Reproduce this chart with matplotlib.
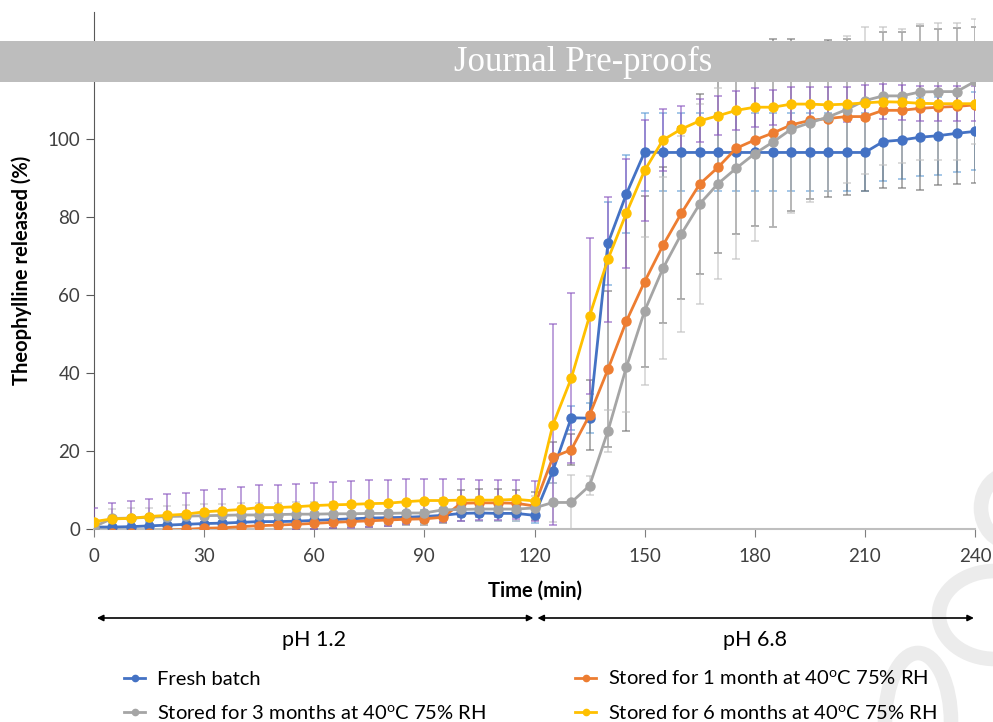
import matplotlib
matplotlib.use("Agg")
import matplotlib.pyplot as plt
from matplotlib.patches import Rectangle, Ellipse
from matplotlib.lines import Line2D

plt.rcParams['font.family'] = ['Lato', 'DejaVu Sans']
plt.rcParams['mathtext.fontset'] = 'custom'
plt.rcParams['mathtext.rm'] = 'Lato'

# time points (min)
time = [0, 5, 10, 15, 20, 25, 30, 35, 40, 45, 50, 55, 60, 65, 70, 75, 80, 85, 90, 95,
        100, 105, 110, 115, 120, 125, 130, 135, 140, 145, 150, 155, 160, 165, 170, 175,
        180, 185, 190, 195, 200, 205, 210, 215, 220, 225, 230, 235, 240]

fresh = [0.5, 0.5, 0.6, 0.8, 1.0, 1.2, 1.4, 1.5, 1.7, 1.9, 1.9, 2.0, 2.2, 2.4, 2.6, 2.8,
         2.9, 3.0, 3.2, 3.5, 4.0, 4.1, 4.0, 4.0, 3.5,
         14.9, 28.5, 28.4, 73.2, 85.8, 96.6, 96.5, 96.5, 96.5, 96.5, 96.5, 96.5, 96.5,
         96.5, 96.5, 96.5, 96.5, 96.5, 99.3, 99.7, 100.4, 100.8, 101.4, 101.9]
fresh_err = [1.0, 1.0, 1.0, 1.0, 1.0, 1.0, 1.2, 1.2, 1.2, 1.2, 1.2, 1.2, 1.3, 1.5, 1.5,
             1.5, 1.5, 1.5, 1.6, 1.8, 2.0, 2.0, 2.0, 2.0, 2.0,
             3.0, 3.0, 3.8, 10.7, 10.0, 10.0, 10.0, 10.0, 10.0, 10.0, 10.0, 10.0, 10.0,
             10.0, 10.0, 10.0, 10.0, 10.0, 10.0, 10.0, 10.0, 10.0, 10.0, 10.0]

month1 = [-1.0, -1.0, -1.0, -1.0, -0.3, -0.1, 0.2, 0.3, 0.6, 0.85, 1.0, 1.2, 1.45, 1.7,
          1.9, 2.1, 2.3, 2.5, 2.6, 3.0, 6.6, 6.7, 6.7, 6.6, 5.9,
          18.4, 20.3, 29.2, 40.9, 53.2, 63.4, 72.7, 80.9, 88.4, 92.7, 97.6, 99.7, 101.5,
          103.6, 104.7, 105.2, 105.7, 105.7, 107.3, 107.3, 107.8, 108.1, 108.3, 108.7]
month1_err = [0.5, 0.5, 0.5, 0.5, 0.5, 0.5, 1.5, 1.5, 1.5, 1.5, 1.5, 1.5, 1.5, 1.5, 1.5,
              1.5, 1.5, 1.5, 1.5, 1.5, 3.5, 3.5, 3.5, 3.5, 3.5,
              4.0, 4.0, 9.0, 20.0, 28.0, 22.0, 20.0, 22.0, 23.0, 22.0, 22.0, 22.0, 24.0,
              22.0, 20.0, 20.0, 20.0, 19.0, 20.0, 20.0, 21.0, 20.0, 20.0, 20.0]

month3 = [0.6, 2.7, 2.8, 3.0, 3.2, 3.3, 3.4, 3.5, 3.6, 3.6, 3.7, 3.8, 3.8, 3.9, 3.9, 4.0,
          4.0, 4.1, 4.1, 4.9, 5.0, 5.1, 5.1, 5.1, 5.4,
          6.8, 6.8, 11.1, 25.1, 41.4, 55.9, 66.8, 75.6, 83.3, 88.5, 92.5, 96.2, 99.2,
          102.5, 104.1, 105.6, 107.5, 109.8, 111.0, 111.0, 112.0, 112.1, 112.1, 114.7]
month3_err = [1.5, 2.5, 2.5, 2.5, 2.8, 2.8, 3.0, 3.0, 3.0, 3.0, 3.0, 3.0, 3.0, 3.0, 3.0,
              3.0, 3.0, 3.0, 3.0, 3.0, 3.0, 3.0, 3.0, 3.0, 3.0,
              5.0, 7.0, 2.5, 5.3, 11.3, 19.0, 23.3, 25.2, 25.6, 24.5, 23.3, 22.5, 21.7,
              21.4, 20.4, 19.0, 18.8, 18.8, 17.7, 17.2, 17.5, 17.5, 17.5, 16.0]

month6 = [1.9, 2.6, 2.7, 3.2, 3.5, 3.8, 4.4, 4.7, 5.0, 5.5, 5.5, 5.7, 6.0, 6.2, 6.3, 6.5,
          6.6, 7.0, 7.3, 7.3, 7.4, 7.4, 7.4, 7.6, 7.2,
          26.7, 38.6, 54.6, 69.1, 80.9, 91.9, 99.7, 102.5, 104.6, 105.9, 107.3, 108.1,
          108.1, 108.9, 108.9, 108.7, 108.9, 109.2, 109.5, 109.4, 109.1, 109.0, 109.0, 109.0]
month6_err = [3.4, 4.1, 4.6, 4.6, 5.4, 5.5, 5.6, 5.6, 5.7, 5.8, 5.7, 5.8, 5.9, 5.9, 6.0,
              6.0, 5.9, 5.8, 5.5, 5.4, 5.3, 5.2, 5.2, 5.0, 5.2,
              25.8, 21.8, 20.0, 16.0, 14.0, 13.0, 8.0, 6.0, 5.5, 5.0, 5.0, 5.0, 4.5,
              4.5, 4.5, 4.5, 4.5, 4.5, 4.5, 4.5, 4.5, 4.5, 4.5, 4.5]

labels = ['Fresh batch',
          'Stored for 1 month at 40$^{\\mathregular{o}}$C 75% RH',
          'Stored for 3 months at 40$^{\\mathregular{o}}$C 75% RH',
          'Stored for 6 months at 40$^{\\mathregular{o}}$C 75% RH']
colors = ['#4472C4', '#ED7D31', '#A5A5A5', '#FFC000']
err_colors = ['#5B9BD5', '#6E6E6E', '#BFBFBF', '#8A55C0']

fig = plt.figure(figsize=(9.93, 7.22), dpi=100)

# watermark rings behind everything
for (cx, cy, w, h) in [(1012, 508, 62, 70), (995, 615, 112, 88), (918, 722, 66, 138)]:
    fig.add_artist(Ellipse((cx/993, 1 - cy/722), w/993, h/722, transform=fig.transFigure,
                           fill=False, edgecolor='#ECECEC', lw=10.5, zorder=0))

ax = fig.add_axes([94/993, (722-529)/722, 881/993, 517/722])
ax.set_zorder(1)
ax.patch.set_alpha(0)

series = [(fresh, fresh_err), (month1, month1_err), (month3, month3_err), (month6, month6_err)]
for i, (vals, errs) in enumerate(series):
    ax.errorbar(time, vals, yerr=errs, fmt='none', ecolor=err_colors[i], elinewidth=1.1,
                capsize=3.2, capthick=1.1, alpha=0.7, zorder=2 + i)
    ax.plot(time, vals, color=colors[i], lw=2.0, marker='o', ms=6.5, zorder=6 + i)

ax.set_xlim(0, 240)
ax.set_ylim(0, 132.5)
ax.set_xticks([0, 30, 60, 90, 120, 150, 180, 210, 240])
ax.set_yticks([0, 20, 40, 60, 80, 100, 120])
for s in ['top', 'right']:
    ax.spines[s].set_visible(False)
ax.spines['left'].set_color('#595959')
ax.spines['bottom'].set_color('#BFBFBF')
ax.spines['bottom'].set_linewidth(1.5)
ax.tick_params(axis='x', length=6, color='#7F7F7F', labelsize=13.5, labelcolor='#404040', pad=8)
ax.tick_params(axis='y', length=6, color='#595959', labelsize=13.5, labelcolor='#404040', pad=4)

ax.text(0.5006, (529 - 591) / 517, 'Time (min)', transform=ax.transAxes, ha='center',
        va='center', fontsize=14.5, fontweight='bold', color='black')
ax.text((22 - 94) / 881, 0.5, 'Theophylline released (%)', transform=ax.transAxes,
        rotation=90, ha='center', va='center', fontsize=14.5, fontweight='bold', color='black')

# pH phase arrows
arrow_y = (529 - 618) / 517
for x0, x1, txt in [(0, 120, 'pH 1.2'), (120, 240, 'pH 6.8')]:
    ax.annotate('', xy=(x0 + 0.8, arrow_y), xytext=(x1 - 0.3, arrow_y),
                xycoords=('data', 'axes fraction'), textcoords=('data', 'axes fraction'),
                arrowprops=dict(arrowstyle='<|-|>', color='black', lw=1.2,
                                mutation_scale=9, shrinkA=0, shrinkB=0),
                annotation_clip=False)
    ax.text((x0 + x1) / 2, (529 - 640) / 517, txt, transform=ax.get_xaxis_transform(),
            ha='center', va='center', fontsize=15.5, color='black')

# legend
leg_handles = [Line2D([0], [0], color=colors[i], lw=2.0, marker='o', ms=4.5) for i in range(4)]
order = [0, 2, 1, 3]
fig.legend([leg_handles[i] for i in order], [labels[i] for i in order],
           loc='upper left', bbox_to_anchor=(124/993, 1 - 669/722), ncol=2, frameon=False,
           fontsize=14.5, handlelength=1.05, handletextpad=0.6, columnspacing=4.4,
           labelspacing=0.8, borderpad=0, borderaxespad=0, labelcolor='black')

# banner
fig.add_artist(Rectangle((0, 1 - 82/722), 1, 41/722, transform=fig.transFigure,
                         facecolor='#BDBDBD', edgecolor='none', zorder=20))
fig.text(583/993, 1 - 62/722, 'Journal Pre-proofs', ha='center', va='center',
         fontsize=25, color='white', family='Liberation Serif', zorder=21)

fig.savefig('out.png', dpi=100)
